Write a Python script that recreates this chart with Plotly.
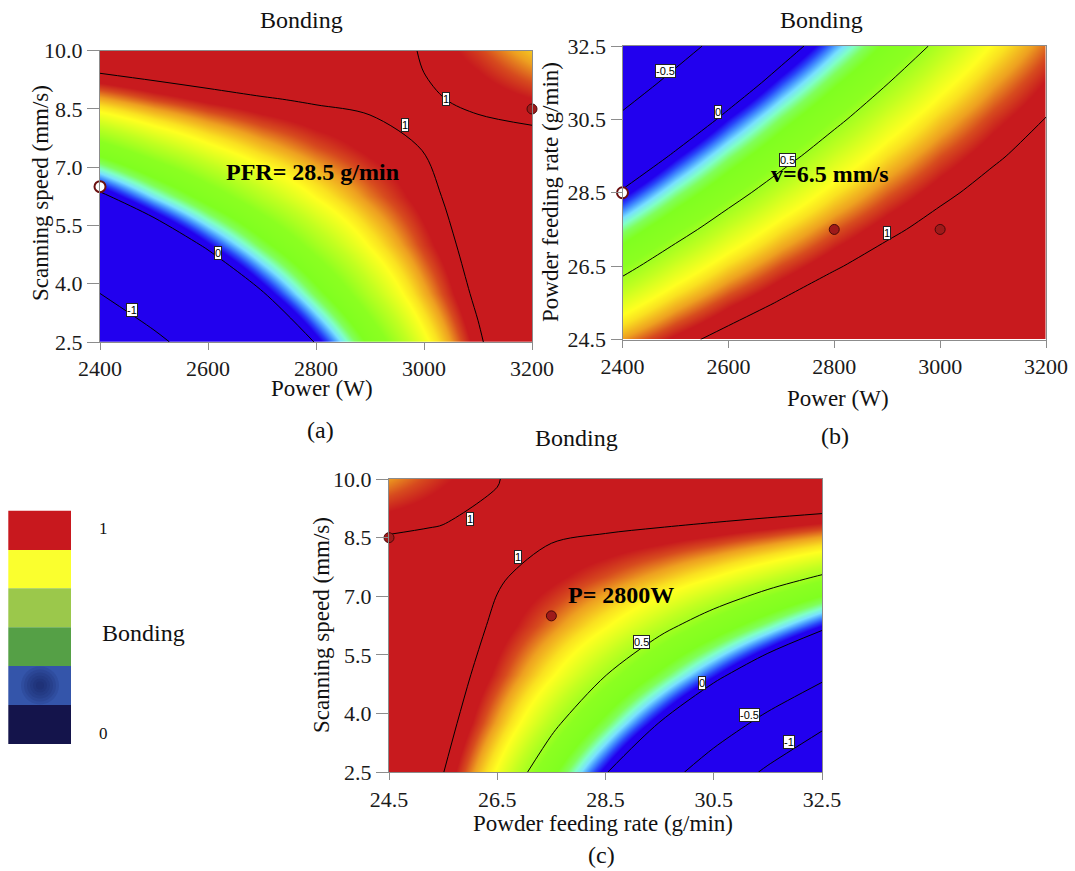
import plotly.graph_objects as go

# ---------------- data ----------------
power = [2400, 2500, 2600, 2700, 2800, 2900, 3000, 3100, 3200]        # W
speed = [2.5, 3.75, 5.0, 6.25, 7.5, 8.75, 10.0]                          # mm/s
pfr = [24.5, 25.5, 26.5, 27.5, 28.5, 29.5, 30.5, 31.5, 32.5]             # g/min

# (a) Bonding vs power (columns) and scanning speed (rows), PFR = 28.5 g/min
bonding_a = [
    [-1.526, -1.113, -0.719, -0.343, 0.014, 0.352, 0.672, 0.972, 1.254],
    [-1.000, -0.654, -0.325, -0.016, 0.275, 0.547, 0.800, 1.035, 1.250],
    [-0.505, -0.224, 0.038, 0.281, 0.506, 0.711, 0.899, 1.067, 1.216],
    [-0.040, 0.175, 0.371, 0.548, 0.706, 0.846, 0.967, 1.069, 1.152],
    [0.395, 0.543, 0.673, 0.784, 0.876, 0.950, 1.004, 1.040, 1.058],
    [0.800, 0.882, 0.946, 0.990, 1.016, 1.024, 1.012, 0.982, 0.933],
    [1.174, 1.190, 1.188, 1.166, 1.126, 1.067, 0.990, 0.893, 0.778],
]
# (b) Bonding vs power (columns) and powder feeding rate (rows), v = 6.5 mm/s
bonding_b = [
    [0.828, 0.952, 1.053, 1.133, 1.190, 1.224, 1.237, 1.227, 1.195],
    [0.642, 0.788, 0.912, 1.013, 1.093, 1.150, 1.185, 1.197, 1.188],
    [0.445, 0.614, 0.760, 0.884, 0.986, 1.066, 1.123, 1.158, 1.171],
    [0.238, 0.429, 0.598, 0.745, 0.869, 0.971, 1.051, 1.109, 1.144],
    [0.022, 0.235, 0.427, 0.596, 0.743, 0.867, 0.970, 1.050, 1.108],
    [-0.205, 0.031, 0.245, 0.436, 0.606, 0.753, 0.878, 0.980, 1.061],
    [-0.442, -0.184, 0.053, 0.267, 0.459, 0.629, 0.776, 0.901, 1.004],
    [-0.689, -0.408, -0.149, 0.088, 0.302, 0.494, 0.664, 0.812, 0.937],
    [-0.946, -0.642, -0.361, -0.102, 0.136, 0.350, 0.543, 0.713, 0.861],
]
# (c) Bonding vs powder feeding rate (columns) and scanning speed (rows), P = 2800 W
bonding_c = [
    [1.314, 1.004, 0.684, 0.354, 0.014, -0.336, -0.696, -1.066, -1.446],
    [1.308, 1.065, 0.812, 0.548, 0.275, -0.008, -0.302, -0.605, -0.918],
    [1.272, 1.096, 0.909, 0.712, 0.506, 0.289, 0.062, -0.174, -0.421],
    [1.206, 1.096, 0.976, 0.846, 0.706, 0.556, 0.396, 0.226, 0.046],
    [1.110, 1.066, 1.013, 0.950, 0.876, 0.793, 0.700, 0.596, 0.483],
    [0.983, 1.006, 1.020, 1.023, 1.016, 0.999, 0.973, 0.936, 0.890],
    [0.826, 0.916, 0.996, 1.066, 1.126, 1.176, 1.216, 1.246, 1.266],
]

power_ticks = [2400, 2600, 2800, 3000, 3200]
speed_ticks = [2.5, 4.0, 5.5, 7.0, 8.5, 10.0]
pfr_ticks = [24.5, 26.5, 28.5, 30.5, 32.5]

# design points shown on the slices
a_open_x, a_open_y = [2400], [6.5]
a_pts_x, a_pts_y = [3200], [8.5]
b_open_x, b_open_y = [2400], [28.5]
b_pts_x, b_pts_y = [2800, 3000], [27.5, 27.5]
c_pts_x, c_pts_y = [24.5, 27.5], [8.5, 6.5]

# contour-label text and where they sit on the lines
labels_a = [("1", 3041, 8.755), ("1", 2964, 8.085), ("0", 2618, 4.80), ("-1", 2459, 3.335)]
labels_b = [("-0.5", 2481, 31.82), ("0", 2581, 30.69), ("0.5", 2711, 29.39), ("1", 2900, 27.40)]
labels_c = [("1", 25.99, 8.97), ("1", 26.88, 8.005), ("0.5", 29.17, 5.83),
            ("0", 30.29, 4.775), ("-0.5", 31.16, 3.96), ("-1", 31.89, 3.27)]

legend_colors = ["#c8181e", "#faff2e", "#9bc84b", "#55a046", "#3455aa", "#14144b"]

# ---------------- styling ----------------
W, H = 1075, 871
SERIF = "Liberation Serif"

colorscale = [
    [0.00, "rgb(34,0,238)"],
    [0.05, "rgb(34,0,238)"],
    [0.09, "rgb(40,70,250)"],
    [0.13, "rgb(70,150,255)"],
    [0.17, "rgb(120,225,255)"],
    [0.21, "rgb(128,255,200)"],
    [0.26, "rgb(128,255,90)"],
    [0.32, "rgb(128,255,32)"],
    [0.45, "rgb(140,255,32)"],
    [0.58, "rgb(195,255,32)"],
    [0.70, "rgb(255,255,32)"],
    [0.75, "rgb(250,225,32)"],
    [0.82, "rgb(238,160,32)"],
    [0.88, "rgb(215,75,30)"],
    [0.93, "rgb(200,26,30)"],
    [1.00, "rgb(200,26,30)"],
]


def px(x):
    return x / W


def py(y):
    return 1 - y / H


fig = go.Figure()


def add_panel(xv, yv, z, xa, ya, start, end, size):
    fig.add_trace(go.Heatmap(x=xv, y=yv, z=z, zmin=0, zmax=1, colorscale=colorscale,
                             zsmooth="best", showscale=False, hoverinfo="skip",
                             xaxis=xa, yaxis=ya))
    fig.add_trace(go.Contour(x=xv, y=yv, z=z, showscale=False, hoverinfo="skip",
                             contours=dict(start=start, end=end, size=size, coloring="none"),
                             line=dict(color="black", width=1, smoothing=0.9),
                             xaxis=xa, yaxis=ya))


add_panel(power, speed, bonding_a, "x", "y", -1, 1, 1)
add_panel(power, pfr, bonding_b, "x2", "y2", -0.5, 1, 0.5)
add_panel(pfr, speed, bonding_c, "x3", "y3", -1, 1, 0.5)


def add_points(xs, ys, xa, ya, open_marker=False):
    if open_marker:
        mk = dict(symbol="circle", size=11, color="white", line=dict(color="#6b1010", width=2))
    else:
        mk = dict(symbol="circle", size=10, color="#9e1a1a", line=dict(color="#4a0808", width=1))
    fig.add_trace(go.Scatter(x=xs, y=ys, mode="markers", marker=mk, cliponaxis=False,
                             hoverinfo="skip", xaxis=xa, yaxis=ya))


add_points(a_open_x, a_open_y, "x", "y", True)
add_points(a_pts_x, a_pts_y, "x", "y")
add_points(b_open_x, b_open_y, "x2", "y2", True)
add_points(b_pts_x, b_pts_y, "x2", "y2")
add_points(c_pts_x, c_pts_y, "x3", "y3")

# ---------------- axes ----------------
base = dict(showgrid=False, zeroline=False, showline=True, linecolor="#8c8c8c", linewidth=1,
            mirror=True, ticks="outside", tickcolor="#8c8c8c", tickwidth=1, automargin=False,
            tickfont=dict(family=SERIF, size=22, color="#1a1a1a"))

fig.update_layout(
    xaxis=dict(base, domain=[px(100), px(532)], range=[2400, 3200], tickvals=power_ticks,
               ticklen=7, anchor="y"),
    yaxis=dict(base, domain=[py(342), py(50.7)], range=[2.5, 10], tickvals=speed_ticks,
               tickformat=".1f", ticklen=12, anchor="x"),
    xaxis2=dict(base, domain=[px(622.5), px(1046)], range=[2400, 3200], tickvals=power_ticks,
                ticklen=7, anchor="y2"),
    yaxis2=dict(base, domain=[py(339.5), py(46)], range=[24.5, 32.5], tickvals=pfr_ticks,
                tickformat=".1f", ticklen=11, anchor="x2"),
    xaxis3=dict(base, domain=[px(389), px(822)], range=[24.5, 32.5], tickvals=pfr_ticks,
                tickformat=".1f", ticklen=7, anchor="y3"),
    yaxis3=dict(base, domain=[py(772.3), py(479)], range=[2.5, 10], tickvals=speed_ticks,
                tickformat=".1f", ticklen=12, anchor="x3"),
)

# ---------------- texts ----------------
ann = []


def text(t, x, y, size, bold=False, angle=0, xanchor="center", family=SERIF):
    ann.append(dict(text=("<b>%s</b>" % t) if bold else t, x=px(x), y=py(y), xref="paper",
                    yref="paper", showarrow=False, textangle=angle, xanchor=xanchor,
                    yanchor="middle", font=dict(family=family, size=size, color="#111")))


# panel titles
text("Bonding", 301, 20, 24)
text("Bonding", 821, 20, 24)
text("Bonding", 576, 438, 24)
# axis titles
text("Power (W)", 322, 388, 23)
text("Scanning speed (mm/s)", 40, 193, 23, angle=-90)
text("Power (W)", 838, 398, 23)
text("Powder feeding rate (g/min)", 551, 192, 23, angle=-90)
text("Powder feeding rate (g/min)", 603, 823, 23)
text("Scanning speed (mm/s)", 321, 625, 23, angle=-90)
# panel letters
text("(a)", 320, 430, 24)
text("(b)", 835, 436, 24)
text("(c)", 601, 855, 24)
# slice annotations
ann.append(dict(text="<b>PFR= 28.5 g/min</b>", x=2793, y=6.87, xref="x", yref="y", showarrow=False,
                font=dict(family=SERIF, size=24, color="black")))
ann.append(dict(text="<b>v=6.5 mm/s</b>", x=2792, y=29.01, xref="x2", yref="y2", showarrow=False,
                font=dict(family=SERIF, size=24, color="black")))
ann.append(dict(text="<b>P= 2800W</b>", x=28.79, y=7.03, xref="x3", yref="y3", showarrow=False,
                font=dict(family=SERIF, size=24, color="black")))

# contour labels
for labs, xr, yr in ((labels_a, "x", "y"), (labels_b, "x2", "y2"), (labels_c, "x3", "y3")):
    for t, lx, ly in labs:
        ann.append(dict(text=t, x=lx, y=ly, xref=xr, yref=yr, showarrow=False,
                        bgcolor="white", bordercolor="#222", borderwidth=1, borderpad=0,
                        font=dict(family="Liberation Sans", size=11, color="black")))

# legend block on the left
edges = [510.7, 550, 588.3, 627.3, 666, 705, 744]
shapes = []
for i, col in enumerate(legend_colors):
    shapes.append(dict(type="rect", xref="paper", yref="paper", x0=px(8.3), x1=px(71),
                       y0=py(edges[i + 1]), y1=py(edges[i]), fillcolor=col, line=dict(width=0),
                       layer="above"))
for r in (19, 16, 13, 10, 7, 4):
    shapes.append(dict(type="circle", xref="paper", yref="paper", x0=px(40 - r), x1=px(40 + r),
                       y0=py(685.5 + r), y1=py(685.5 - r), fillcolor="#141c50", opacity=0.12,
                       line=dict(width=0), layer="above"))
text("1", 97, 528, 17, xanchor="left")
text("Bonding", 100, 633, 24, xanchor="left")
text("0", 97, 733, 17, xanchor="left")

fig.update_layout(width=W, height=H, margin=dict(l=0, r=0, t=0, b=0, pad=0),
                  paper_bgcolor="white", plot_bgcolor="white", showlegend=False,
                  annotations=ann, shapes=shapes)

fig.write_html("out.html")
